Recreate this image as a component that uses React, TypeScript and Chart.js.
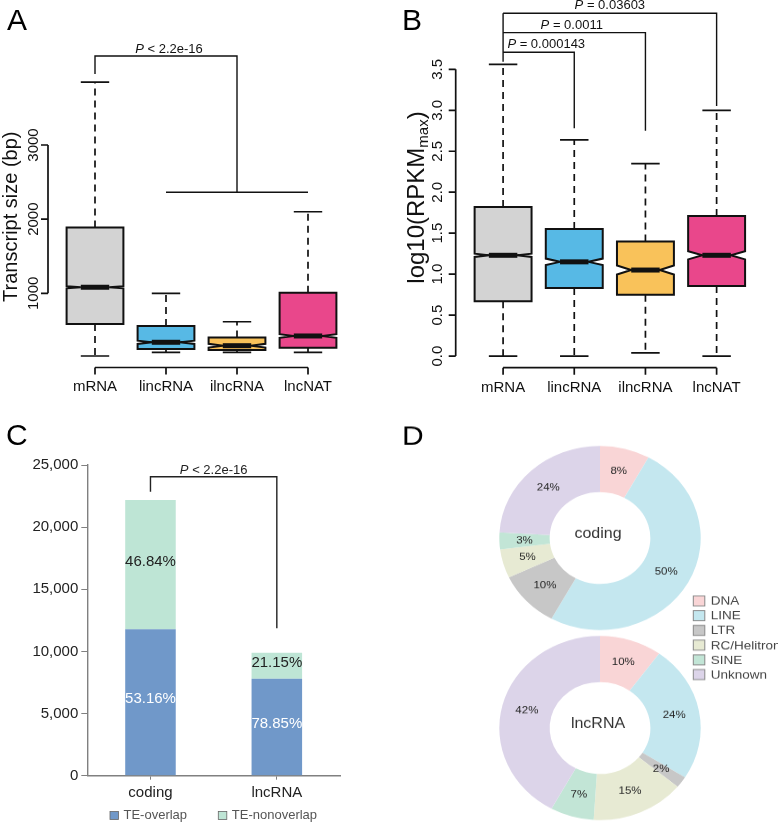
import React, { useEffect, useRef } from 'react';
import { Chart, registerables } from 'chart.js';

Chart.register(...registerables);

const FONT = '"Liberation Sans", Arial, Helvetica, sans-serif';
Chart.defaults.font.family = FONT;

// ---------------- Panel A: transcript size (box plot) ----------------
const boxCategories = ['mRNA', 'lincRNA', 'ilncRNA', 'lncNAT'];
const boxColors = ['#d3d3d3', '#57b9e5', '#f9c25a', '#e9478b'];

const sizeMin = [155, 205, 205, 205];
const sizeQ1 = [586, 248, 235, 266];
const sizeMedian = [1082, 340, 294, 425];
const sizeQ3 = [1888, 560, 406, 1008];
const sizeMax = [3847, 1000, 617, 2100];
const sizeNotch = [15, 22, 25, 25];
const sizeTicks = [1000, 2000, 3000];

// ---------------- Panel B: log10(RPKMmax) (box plot) ----------------
const rpkmMin = [0, 0, 0.04, 0];
const rpkmQ1 = [0.67, 0.83, 0.75, 0.855];
const rpkmMedian = [1.23, 1.15, 1.05, 1.23];
const rpkmQ3 = [1.82, 1.55, 1.4, 1.71];
const rpkmMax = [3.56, 2.64, 2.35, 3.0];
const rpkmNotch = [0.02, 0.04, 0.055, 0.05];
const rpkmTicks = [0, 0.5, 1, 1.5, 2, 2.5, 3, 3.5];
const rpkmPValues = ['0.000143', '0.0011', '0.03603'];

// ---------------- Panel C: TE overlap (stacked bars) ----------------
const teCategories = ['coding', 'lncRNA'];
const teOverlap = [11790, 7800];
const teNonoverlap = [10390, 2095];
const teOverlapPct = ['53.16%', '78.85%'];
const teNonoverlapPct = ['46.84%', '21.15%'];
const teTicks = [0, 5000, 10000, 15000, 20000, 25000];

// ---------------- Panel D: TE class composition (doughnuts) ----------------
const teTypes = ['DNA', 'LINE', 'LTR', 'RC/Helitron', 'SINE', 'Unknown'];
const teTypeColors = ['#f9d5d6', '#c4e7ef', '#c7c7c7', '#e7ead3', '#c2e5d6', '#dcd4e9'];
const codingShares = [8, 50, 10, 5, 3, 24];
const lncShares = [10, 24, 2, 15, 7, 42];

const INK = '#111';

type BoxStats = {
  min: number[]; q1: number[]; med: number[]; q3: number[]; max: number[]; notch: number[]; colors: string[];
};

function drawBoxes(chart: any, s: BoxStats) {
  const ctx: CanvasRenderingContext2D = chart.ctx;
  const xs = chart.scales.x, ys = chart.scales.y;
  const step = xs.getPixelForValue(1) - xs.getPixelForValue(0);
  const hw = step * 0.4;
  ctx.save();
  ctx.strokeStyle = INK;
  s.med.forEach((m, i) => {
    const cx = xs.getPixelForValue(i);
    const py = (v: number) => ys.getPixelForValue(v);
    const pMin = py(s.min[i]), pQ1 = py(s.q1[i]), pMed = py(m), pQ3 = py(s.q3[i]), pMax = py(s.max[i]);
    const pNLo = py(m - s.notch[i]), pNHi = py(m + s.notch[i]);
    ctx.lineWidth = 1.7;
    ctx.setLineDash([7, 5]);
    ctx.beginPath();
    ctx.moveTo(cx, pQ3); ctx.lineTo(cx, pMax);
    ctx.moveTo(cx, pQ1); ctx.lineTo(cx, pMin);
    ctx.stroke();
    ctx.setLineDash([]);
    ctx.beginPath();
    ctx.moveTo(cx - hw / 2, pMax); ctx.lineTo(cx + hw / 2, pMax);
    ctx.moveTo(cx - hw / 2, pMin); ctx.lineTo(cx + hw / 2, pMin);
    ctx.stroke();
    ctx.beginPath();
    ctx.moveTo(cx - hw, pQ1); ctx.lineTo(cx - hw, pNLo); ctx.lineTo(cx - hw / 2, pMed);
    ctx.lineTo(cx - hw, pNHi); ctx.lineTo(cx - hw, pQ3); ctx.lineTo(cx + hw, pQ3);
    ctx.lineTo(cx + hw, pNHi); ctx.lineTo(cx + hw / 2, pMed); ctx.lineTo(cx + hw, pNLo);
    ctx.lineTo(cx + hw, pQ1); ctx.closePath();
    ctx.fillStyle = s.colors[i];
    ctx.fill();
    ctx.lineWidth = 2;
    ctx.stroke();
    ctx.lineWidth = 5;
    ctx.beginPath(); ctx.moveTo(cx - hw / 2, pMed); ctx.lineTo(cx + hw / 2, pMed); ctx.stroke();
  });
  ctx.restore();
}

function drawRYAxis(chart: any, ticks: number[], fmt: (v: number) => string, axisX: number, labelX: number, size: number) {
  const ctx: CanvasRenderingContext2D = chart.ctx;
  const ys = chart.scales.y;
  ctx.save();
  ctx.strokeStyle = INK; ctx.lineWidth = 1.7;
  ctx.beginPath();
  ctx.moveTo(axisX, ys.getPixelForValue(ticks[0]));
  ctx.lineTo(axisX, ys.getPixelForValue(ticks[ticks.length - 1]));
  ticks.forEach((t) => { const p = ys.getPixelForValue(t); ctx.moveTo(axisX - 7, p); ctx.lineTo(axisX, p); });
  ctx.stroke();
  ctx.fillStyle = INK; ctx.font = `${size}px ${FONT}`; ctx.textAlign = 'center'; ctx.textBaseline = 'alphabetic';
  ticks.forEach((t) => {
    const p = ys.getPixelForValue(t);
    ctx.save(); ctx.translate(labelX, p); ctx.rotate(-Math.PI / 2); ctx.fillText(fmt(t), 0, 0); ctx.restore();
  });
  ctx.restore();
}

function drawRXAxis(chart: any, labels: string[], axisY: number, baseline: number, size: number) {
  const ctx: CanvasRenderingContext2D = chart.ctx;
  const xs = chart.scales.x;
  ctx.save();
  ctx.strokeStyle = INK; ctx.lineWidth = 1.7;
  ctx.beginPath();
  ctx.moveTo(xs.getPixelForValue(0), axisY);
  ctx.lineTo(xs.getPixelForValue(labels.length - 1), axisY);
  labels.forEach((_, i) => { const p = xs.getPixelForValue(i); ctx.moveTo(p, axisY); ctx.lineTo(p, axisY + 7); });
  ctx.stroke();
  ctx.fillStyle = INK; ctx.font = `${size}px ${FONT}`; ctx.textAlign = 'center'; ctx.textBaseline = 'alphabetic';
  labels.forEach((l, i) => ctx.fillText(l, xs.getPixelForValue(i), baseline));
  ctx.restore();
}

function drawPText(ctx: CanvasRenderingContext2D, rest: string, x: number, baseline: number, size: number, align: 'center' | 'left', color = INK) {
  ctx.save();
  ctx.fillStyle = color; ctx.textBaseline = 'alphabetic'; ctx.textAlign = 'left';
  ctx.font = `italic ${size}px ${FONT}`;
  const wP = ctx.measureText('P').width;
  ctx.font = `${size}px ${FONT}`;
  const wR = ctx.measureText(rest).width;
  const start = align === 'center' ? x - (wP + wR) / 2 : x;
  ctx.font = `italic ${size}px ${FONT}`;
  ctx.fillText('P', start, baseline);
  ctx.font = `${size}px ${FONT}`;
  ctx.fillText(rest, start + wP, baseline);
  ctx.restore();
}

function polyline(ctx: CanvasRenderingContext2D, pts: number[][]) {
  ctx.beginPath();
  pts.forEach(([x, y], i) => (i === 0 ? ctx.moveTo(x, y) : ctx.lineTo(x, y)));
  ctx.stroke();
}

function letter(ctx: CanvasRenderingContext2D, t: string, x: number, y: number) {
  ctx.save();
  ctx.fillStyle = '#000'; ctx.font = `30px ${FONT}`; ctx.textAlign = 'left'; ctx.textBaseline = 'alphabetic';
  ctx.fillText(t, x, y);
  ctx.restore();
}

const panelAPlugin = {
  id: 'panelA',
  afterDraw(chart: any) {
    const ctx: CanvasRenderingContext2D = chart.ctx;
    const xs = chart.scales.x, ys = chart.scales.y;
    drawBoxes(chart, { min: sizeMin, q1: sizeQ1, med: sizeMedian, q3: sizeQ3, max: sizeMax, notch: sizeNotch, colors: boxColors });
    drawRYAxis(chart, sizeTicks, (v) => String(v), 48, 38.3, 15);
    drawRXAxis(chart, boxCategories, chart.chartArea.bottom, 390.7, 15);
    ctx.save();
    ctx.fillStyle = INK; ctx.font = `20px ${FONT}`; ctx.textAlign = 'center'; ctx.textBaseline = 'alphabetic';
    ctx.translate(16.7, 216.7); ctx.rotate(-Math.PI / 2); ctx.fillText('Transcript size (bp)', 0, 0);
    ctx.restore();
    const x0 = xs.getPixelForValue(0), x1 = xs.getPixelForValue(1), x2 = xs.getPixelForValue(2), x3 = xs.getPixelForValue(3);
    const yTop = ys.getPixelForValue(4200), yL = ys.getPixelForValue(3957), yR = ys.getPixelForValue(2362);
    ctx.save();
    ctx.strokeStyle = INK; ctx.lineWidth = 1.4;
    polyline(ctx, [[x0, yL], [x0, yTop], [x2, yTop], [x2, yR]]);
    polyline(ctx, [[x1, yR], [x3, yR]]);
    ctx.restore();
    drawPText(ctx, ' < 2.2e-16', (x0 + x2) / 2 + 3, yTop - 3, 13, 'center');
    letter(ctx, 'A', 7, 30);
  },
};

const panelBPlugin = {
  id: 'panelB',
  afterDraw(chart: any) {
    const ctx: CanvasRenderingContext2D = chart.ctx;
    const xs = chart.scales.x, ys = chart.scales.y;
    drawBoxes(chart, { min: rpkmMin, q1: rpkmQ1, med: rpkmMedian, q3: rpkmQ3, max: rpkmMax, notch: rpkmNotch, colors: boxColors });
    drawRYAxis(chart, rpkmTicks, (v) => v.toFixed(1), 66.7, 53, 15);
    drawRXAxis(chart, boxCategories, chart.chartArea.bottom, 392, 15);
    // axis title with subscript
    ctx.save();
    ctx.fillStyle = INK; ctx.textBaseline = 'alphabetic'; ctx.textAlign = 'left';
    ctx.translate(35, 197.5); ctx.rotate(-Math.PI / 2);
    ctx.font = `24px ${FONT}`;
    const w1 = ctx.measureText('log10(RPKM').width, w3 = ctx.measureText(')').width;
    ctx.font = `15px ${FONT}`;
    const w2 = ctx.measureText('max').width;
    const s = -(w1 + w2 + w3) / 2;
    ctx.font = `24px ${FONT}`;
    ctx.fillText('log10(RPKM', s, 0);
    ctx.font = `15px ${FONT}`;
    ctx.fillText('max', s + w1, 4);
    ctx.font = `24px ${FONT}`;
    ctx.fillText(')', s + w1 + w2, 0);
    ctx.restore();
    const x0 = xs.getPixelForValue(0), x1 = xs.getPixelForValue(1), x2 = xs.getPixelForValue(2), x3 = xs.getPixelForValue(3);
    const y1 = ys.getPixelForValue(3.708), y2 = ys.getPixelForValue(3.948), y3 = ys.getPixelForValue(4.184);
    ctx.save();
    ctx.strokeStyle = INK; ctx.lineWidth = 1.4;
    polyline(ctx, [[x0, ys.getPixelForValue(3.593)], [x0, y3]]);
    polyline(ctx, [[x0, y1], [x1, y1], [x1, ys.getPixelForValue(2.78)]]);
    polyline(ctx, [[x0, y2], [x2, y2], [x2, ys.getPixelForValue(2.751)]]);
    polyline(ctx, [[x0, y3], [x3, y3], [x3, ys.getPixelForValue(3.053)]]);
    ctx.restore();
    drawPText(ctx, ' = ' + rpkmPValues[0], x0 + 4.3, y1 - 4.6, 13, 'left');
    drawPText(ctx, ' = ' + rpkmPValues[1], (x0 + x2) / 2 - 2.5, y2 - 3.4, 13, 'center');
    drawPText(ctx, ' = ' + rpkmPValues[2], (x0 + x3) / 2, y3 - 4.3, 13, 'center');
    letter(ctx, 'B', 13, 30);
  },
};

const panelCPlugin = {
  id: 'panelC',
  afterDraw(chart: any) {
    const ctx: CanvasRenderingContext2D = chart.ctx;
    const xs = chart.scales.x, ys = chart.scales.y;
    const pcts = [teOverlapPct, teNonoverlapPct];
    const colors = ['#ffffff', '#222222'];
    ctx.save();
    ctx.font = `15px ${FONT}`; ctx.textAlign = 'center'; ctx.textBaseline = 'middle';
    chart.data.datasets.forEach((_: any, di: number) => {
      chart.getDatasetMeta(di).data.forEach((bar: any, j: number) => {
        ctx.fillStyle = colors[di];
        ctx.fillText(pcts[di][j], bar.x, (bar.y + bar.base) / 2 - 3);
      });
    });
    ctx.restore();
    const x0 = xs.getPixelForValue(0), x1 = xs.getPixelForValue(1);
    const yH = ys.getPixelForValue(24058);
    ctx.save();
    ctx.strokeStyle = '#222'; ctx.lineWidth = 1.4;
    polyline(ctx, [[x0, ys.getPixelForValue(22851)], [x0, yH], [x1, yH], [x1, ys.getPixelForValue(11860)]]);
    ctx.restore();
    drawPText(ctx, ' < 2.2e-16', (x0 + x1) / 2, yH - 2.7, 13, 'center', '#222');
    // legend
    const legendX = [110, 218.3];
    ctx.save();
    ctx.font = `13px ${FONT}`; ctx.textAlign = 'left'; ctx.textBaseline = 'middle';
    chart.data.datasets.forEach((ds: any, i: number) => {
      ctx.fillStyle = ds.backgroundColor;
      ctx.fillRect(legendX[i], 411.5, 8.5, 8);
      ctx.strokeStyle = '#666'; ctx.lineWidth = 0.8;
      ctx.strokeRect(legendX[i], 411.5, 8.5, 8);
      ctx.fillStyle = '#555';
      ctx.fillText(ds.label, legendX[i] + 13.5, 415.5);
    });
    ctx.restore();
    letter(ctx, 'C', 6, 45);
  },
};

function makeDonutPlugin(center: string, withLetter: boolean, withLegend: boolean) {
  return {
    id: 'donut' + center,
    afterDraw(chart: any) {
      const ctx: CanvasRenderingContext2D = chart.ctx;
      const meta = chart.getDatasetMeta(0);
      const ds = chart.data.datasets[0];
      ctx.save();
      ctx.fillStyle = '#262626'; ctx.font = `11.5px ${FONT}`; ctx.textAlign = 'center'; ctx.textBaseline = 'middle';
      meta.data.forEach((arc: any, i: number) => {
        const p = arc.getCenterPoint();
        ctx.fillText(`${ds.data[i]}%`, p.x, p.y);
      });
      const a0 = meta.data[0];
      ctx.fillStyle = '#333';
      ctx.font = `16px ${FONT}`;
      ctx.fillText(center, a0.x - 2, a0.y - 4);
      ctx.restore();
      if (withLetter) letter(ctx, 'D', 13, 48);
      if (withLegend) {
        ctx.save();
        ctx.font = `13.5px ${FONT}`; ctx.textAlign = 'left'; ctx.textBaseline = 'middle';
        chart.data.labels.forEach((l: string, i: number) => {
          const cy = 81 + i * 16.1;
          ctx.fillStyle = ds.backgroundColor[i];
          ctx.fillRect(304.3, cy - 5.5, 11.5, 11);
          ctx.strokeStyle = '#888'; ctx.lineWidth = 1;
          ctx.strokeRect(304.3, cy - 5.5, 11.5, 11);
          ctx.fillStyle = '#444';
          ctx.fillText(l, 321.7, cy + 0.5);
        });
        ctx.restore();
      }
    },
  };
}

function donutConfig(values: number[], padding: any, plugin: any) {
  return {
    type: 'doughnut' as const,
    data: {
      labels: teTypes,
      datasets: [{ data: values, backgroundColor: teTypeColors, borderWidth: 0 }],
    },
    options: {
      responsive: false,
      animation: false as const,
      events: [],
      cutout: '50%',
      layout: { padding },
      plugins: { legend: { display: false }, tooltip: { enabled: false } },
    },
    plugins: [plugin],
  };
}

export default function App() {
  const aRef = useRef<HTMLCanvasElement>(null);
  const bRef = useRef<HTMLCanvasElement>(null);
  const cRef = useRef<HTMLCanvasElement>(null);
  const d1Ref = useRef<HTMLCanvasElement>(null);
  const d2Ref = useRef<HTMLCanvasElement>(null);

  useEffect(() => {
    const charts: Chart[] = [];
    const hidden = { legend: { display: false }, tooltip: { enabled: false } };

    charts.push(new Chart(aRef.current as HTMLCanvasElement, {
      type: 'bar',
      data: {
        labels: boxCategories,
        datasets: [{ data: sizeQ1.map((q, i) => [q, sizeQ3[i]]) as any, backgroundColor: 'rgba(0,0,0,0)', borderWidth: 0 }],
      },
      options: {
        responsive: false, animation: false, events: [],
        layout: { padding: { left: 59.5, right: 45.5, top: 18.9, bottom: 32.5 } },
        plugins: hidden,
        scales: { x: { type: 'category', display: false, offset: true }, y: { type: 'linear', display: false, min: 0, max: 4700 } },
      },
      plugins: [panelAPlugin],
    } as any));

    charts.push(new Chart(bRef.current as HTMLCanvasElement, {
      type: 'bar',
      data: {
        labels: boxCategories,
        datasets: [{ data: rpkmQ1.map((q, i) => [q, rpkmQ3[i]]) as any, backgroundColor: 'rgba(0,0,0,0)', borderWidth: 0 }],
      },
      options: {
        responsive: false, animation: false, events: [],
        layout: { padding: { left: 78.5, right: 25.8, top: 3.8, bottom: 32.3 } },
        plugins: hidden,
        scales: { x: { type: 'category', display: false, offset: true }, y: { type: 'linear', display: false, min: -0.142, max: 4.3 } },
      },
      plugins: [panelBPlugin],
    } as any));

    charts.push(new Chart(cRef.current as HTMLCanvasElement, {
      type: 'bar',
      data: {
        labels: teCategories,
        datasets: [
          { label: 'TE-overlap', data: teOverlap, backgroundColor: '#7098c9', stack: 's' },
          { label: 'TE-nonoverlap', data: teNonoverlap, backgroundColor: '#bee5d5', stack: 's' },
        ],
      },
      options: {
        responsive: false, animation: false, events: [],
        layout: { padding: { top: 65, right: 49, bottom: 0, left: 0 } },
        plugins: hidden,
        datasets: { bar: { categoryPercentage: 1, barPercentage: 0.4 } },
        scales: {
          x: {
            stacked: true,
            grid: { drawOnChartArea: false, drawTicks: true, tickLength: 4, color: '#808080', offset: false },
            border: { display: true, color: '#808080', width: 1.4 },
            ticks: { font: { size: 15, family: FONT }, color: '#222', padding: 4 },
            afterFit: (s: any) => { s.height = 47.3; },
          },
          y: {
            stacked: true, min: 0, max: 25000,
            afterBuildTicks: (s: any) => { s.ticks = teTicks.map((v) => ({ value: v })); },
            ticks: { font: { size: 15, family: FONT }, color: '#222', padding: 3, callback: (v: any) => Number(v).toLocaleString('en-US') },
            grid: { drawOnChartArea: false, drawTicks: true, tickLength: 6, color: '#808080' },
            border: { display: true, color: '#808080', width: 1.4 },
            afterFit: (s: any) => { s.width = 87.3; },
          },
        },
      },
      plugins: [panelCPlugin],
    } as any));

    charts.push(new Chart(d1Ref.current as HTMLCanvasElement,
      donutConfig(codingShares, { left: 110.3, right: 19.3, top: 49.3, bottom: 19.3 }, makeDonutPlugin('coding', true, false)) as any));
    charts.push(new Chart(d2Ref.current as HTMLCanvasElement,
      donutConfig(lncShares, { left: 110.3, right: 77.3, top: 119.3, bottom: 1.3 }, makeDonutPlugin('lncRNA', false, true)) as any));

    return () => charts.forEach((c) => c.destroy());
  }, []);

  return (
    <div style={{ position: 'absolute', left: 0, top: 0, width: 778, height: 823, overflow: 'hidden', background: '#fff' }}>
      <canvas ref={aRef} width={389} height={400} style={{ position: 'absolute', left: 0, top: 0 }} />
      <canvas ref={bRef} width={389} height={400} style={{ position: 'absolute', left: 389, top: 0 }} />
      <canvas ref={cRef} width={389} height={423} style={{ position: 'absolute', left: 0, top: 400 }} />
      <div style={{ position: 'absolute', left: 389, top: 388.3, width: 331, height: 270, transform: 'scaleY(0.914)', transformOrigin: '211px 150px' }}>
        <canvas ref={d1Ref} width={331} height={270} style={{ display: 'block' }} />
      </div>
      <div style={{ position: 'absolute', left: 389, top: 508.3, width: 389, height: 322, transform: 'scaleY(0.914)', transformOrigin: '211px 220px' }}>
        <canvas ref={d2Ref} width={389} height={322} style={{ display: 'block' }} />
      </div>
    </div>
  );
}
